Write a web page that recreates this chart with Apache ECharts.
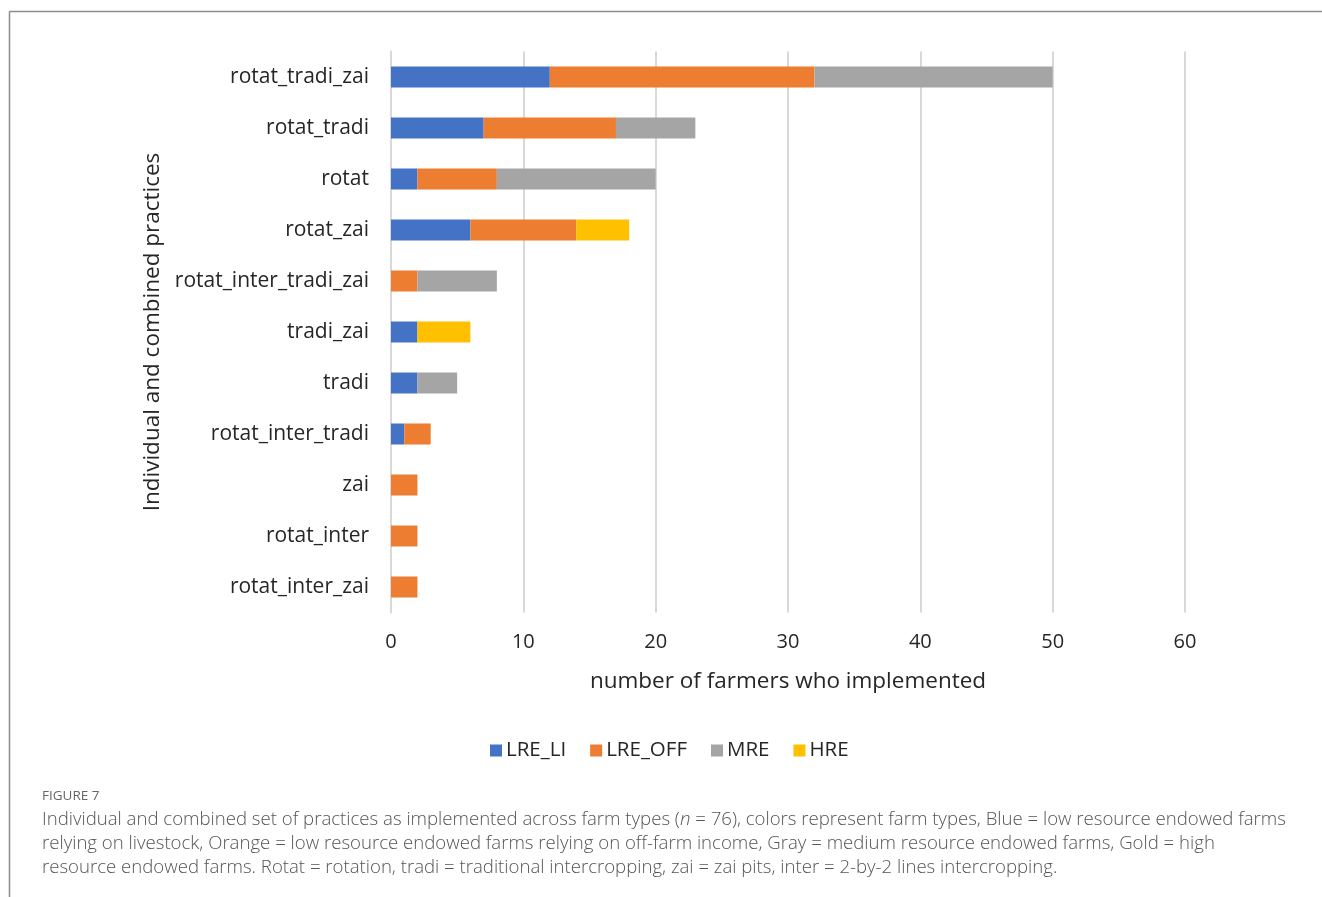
<!DOCTYPE html>
<html><head><meta charset="utf-8">
<script src="https://cdn.jsdelivr.net/npm/echarts@6/dist/echarts.min.js"></script>
<style>html,body{margin:0;padding:0;background:#fff}#c{width:1322px;height:897px}</style>
</head><body><div id="c"></div>
<script>
const categories = ["rotat_tradi_zai","rotat_tradi","rotat","rotat_zai","rotat_inter_tradi_zai","tradi_zai","tradi","rotat_inter_tradi","zai","rotat_inter","rotat_inter_zai"];
const seriesNames = ["LRE_LI","LRE_OFF","MRE","HRE"];
const lreLi  = [12, 7, 2, 6, 0, 2, 2, 1, 0, 0, 0];
const lreOff = [20, 10, 6, 8, 2, 0, 0, 2, 2, 2, 2];
const mre    = [18, 6, 12, 0, 6, 0, 3, 0, 0, 0, 0];
const hre    = [0, 0, 0, 4, 0, 4, 0, 0, 0, 0, 0];
const xTicks = [0, 10, 20, 30, 40, 50, 60];
const colors = ["#4472C4","#ED7D31","#A5A5A5","#FFC000"];
const values = [lreLi, lreOff, mre, hre];

const chartFont = "Open Sans";
const capFont = "Open Sans";
const chart = echarts.init(document.getElementById('c'), null, {renderer:'canvas'});
chart.setOption({
  animation: false,
  backgroundColor: '#fff',
  textStyle: {fontFamily: chartFont},
  grid: {left: 391, right: 137, top: 51.5, bottom: 284.5, containLabel: false},
  legend: {
    data: seriesNames, bottom: 131, left: 485,
    itemWidth: 12, itemHeight: 12, itemGap: 24, icon: 'rect',
    textStyle: {fontSize: 20.5, color: '#262626', fontFamily: chartFont, padding: [0,0,0,-1]}
  },
  xAxis: {
    type: 'value', min: xTicks[0], max: xTicks[xTicks.length-1], interval: 10,
    axisLine: {show: false}, axisTick: {show: false},
    splitLine: {lineStyle: {color: '#d9d9d9', width: 2}},
    axisLabel: {fontSize: 20, color: '#262626', margin: 20},
    name: 'number of farmers who implemented', nameLocation: 'middle', nameGap: 58,
    nameTextStyle: {fontSize: 22.5, color: '#262626'}
  },
  yAxis: {
    type: 'category', data: categories, inverse: true,
    axisLine: {show: true, lineStyle: {color: '#d9d9d9', width: 2}},
    axisTick: {show: false},
    axisLabel: {fontSize: 21, color: '#262626', margin: 22},
    name: 'Individual and combined practices', nameLocation: 'middle', nameGap: 226, nameRotate: 90,
    nameTextStyle: {fontSize: 22.5, color: '#262626'}
  },
  series: seriesNames.map((n, i) => ({
    name: n, type: 'bar', stack: 'total', data: values[i],
    barWidth: 21,
    itemStyle: {color: colors[i]}
  })),
  graphic: [
    {type: 'line', shape: {x1: 9.5, y1: 11.5, x2: 1322, y2: 11.5}, style: {stroke: '#8c8c8c', lineWidth: 1.5}},
    {type: 'line', shape: {x1: 9.5, y1: 11.5, x2: 9.5, y2: 897}, style: {stroke: '#8c8c8c', lineWidth: 1.5}},
    {type: 'text', left: 42, top: 789, style: {text: 'FIGURE 7', font: '500 13.5px ' + capFont, fill: '#666'}},
    {type: 'text', left: 42, top: 808, style: {
      text: 'Individual and combined set of practices as implemented across farm types ({i|n} = 76), colors represent farm types, Blue = low resource endowed farms\nrelying on livestock, Orange = low resource endowed farms relying on off-farm income, Gray = medium resource endowed farms, Gold = high\nresource endowed farms. Rotat = rotation, tradi = traditional intercropping, zai = zai pits, inter = 2-by-2 lines intercropping.',
      font: '300 18.6px ' + capFont, fill: '#555', lineHeight: 24,
      rich: {i: {fontStyle: 'italic', fontWeight: 300, fontSize: 18.6, fontFamily: capFont, fill: '#555', color: '#555'}}
    }}
  ]
});
</script></body></html>
